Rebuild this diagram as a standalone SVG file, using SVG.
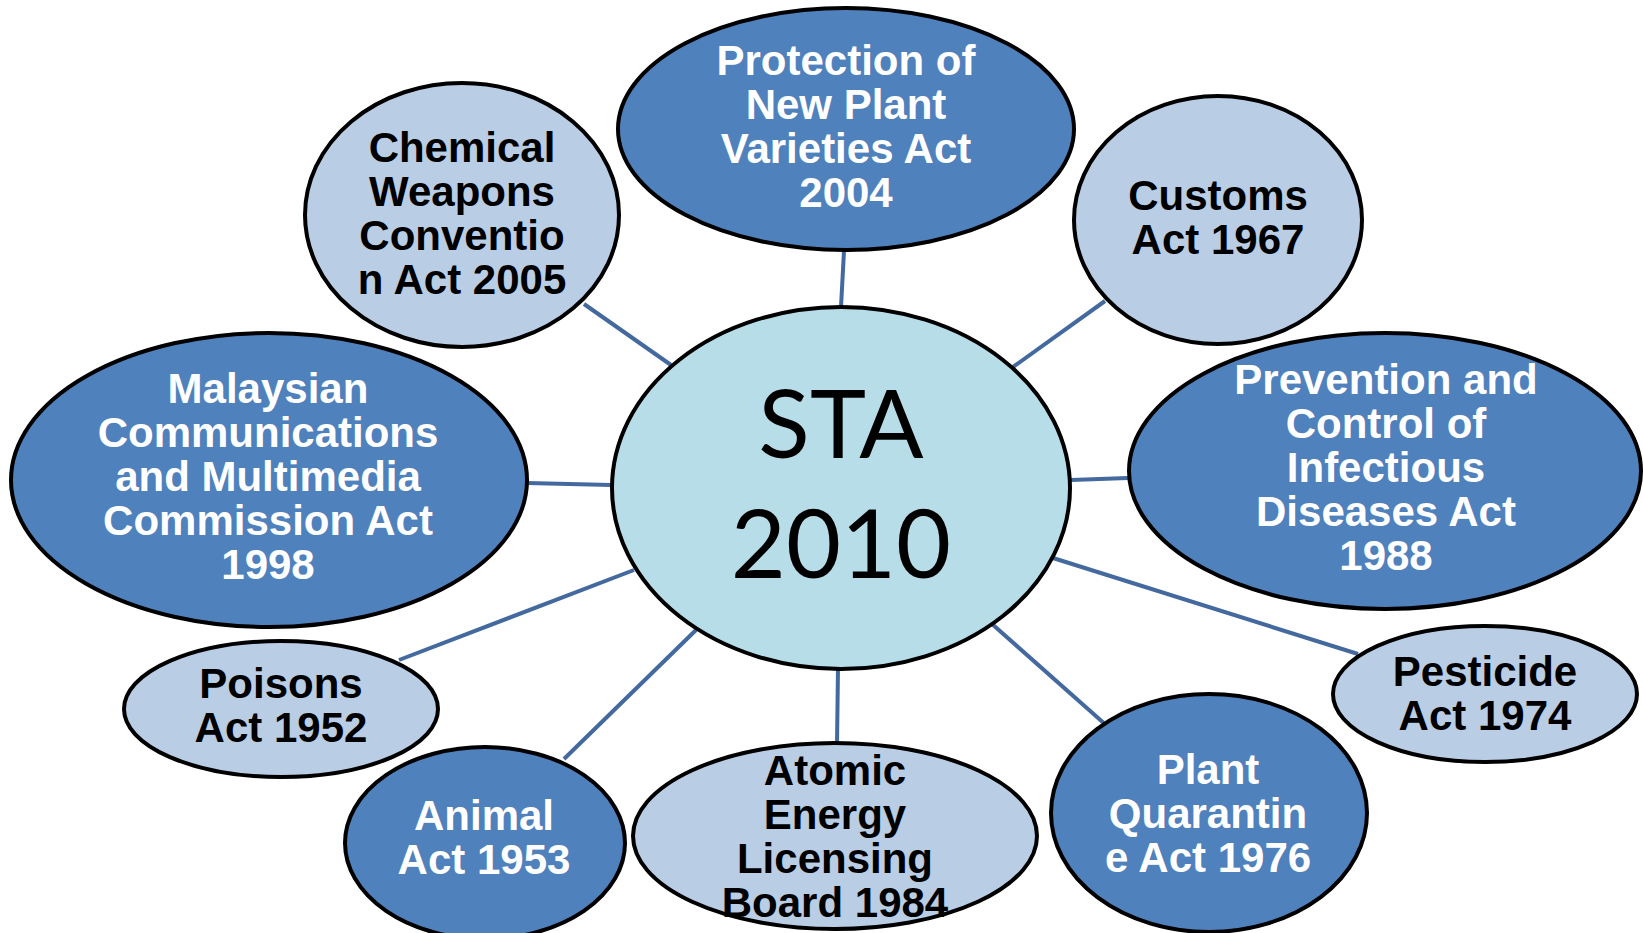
<svg xmlns="http://www.w3.org/2000/svg" width="1643" height="933" viewBox="0 0 1643 933">
<style>
.dk{fill:#4F81BD;stroke:#000;stroke-width:4}
.lt{fill:#B9CDE5;stroke:#000;stroke-width:4}
.ct{fill:#B7DEE8;stroke:#000;stroke-width:4}
.w{font-family:"Liberation Sans",Arial,sans-serif;font-weight:bold;font-size:42px;fill:#fff;text-anchor:middle}
.b{font-family:"Liberation Sans",Arial,sans-serif;font-weight:bold;font-size:42px;fill:#000;text-anchor:middle}
.c{font-family:Lato,"Open Sans",sans-serif;font-size:95px;fill:#000;text-anchor:middle}
.ln{stroke:#43699E;stroke-width:4;fill:none}
</style>
<rect width="1643" height="933" fill="#fff"/>
<g id="connectors">
<line class="ln" x1="584" y1="304" x2="671" y2="365"/>
<line class="ln" x1="844" y1="251" x2="841" y2="307"/>
<line class="ln" x1="1105" y1="301" x2="1013" y2="367"/>
<line class="ln" x1="527" y1="483" x2="611" y2="485"/>
<line class="ln" x1="1071" y1="480" x2="1128" y2="478"/>
<line class="ln" x1="399" y1="660" x2="634" y2="570"/>
<line class="ln" x1="1053" y1="558" x2="1358" y2="654"/>
<line class="ln" x1="564" y1="759" x2="696" y2="630"/>
<line class="ln" x1="837" y1="744" x2="838" y2="668"/>
<line class="ln" x1="1106" y1="725" x2="992" y2="624"/>
</g>
<g id="sta">
<ellipse class="ct" cx="841" cy="488" rx="229" ry="181"/>
<text class="c" x="841" y="458">STA</text>
<text class="c" x="841" y="578">2010</text>
</g>
<g id="protection">
<ellipse class="dk" cx="846" cy="129" rx="228" ry="121"/>
<text class="w" x="846" y="75">Protection of</text>
<text class="w" x="846" y="119">New Plant</text>
<text class="w" x="846" y="163">Varieties Act</text>
<text class="w" x="846" y="207">2004</text>
</g>
<g id="chemical">
<ellipse class="lt" cx="462" cy="215" rx="157" ry="132"/>
<text class="b" x="462" y="162">Chemical</text>
<text class="b" x="462" y="206">Weapons</text>
<text class="b" x="462" y="250">Conventio</text>
<text class="b" x="462" y="294">n Act 2005</text>
</g>
<g id="customs">
<ellipse class="lt" cx="1218" cy="220" rx="144" ry="124"/>
<text class="b" x="1218" y="210">Customs</text>
<text class="b" x="1218" y="254">Act 1967</text>
</g>
<g id="malaysian">
<ellipse class="dk" cx="269" cy="480" rx="258" ry="147"/>
<text class="w" x="268" y="403">Malaysian</text>
<text class="w" x="268" y="447">Communications</text>
<text class="w" x="268" y="491">and Multimedia</text>
<text class="w" x="268" y="535">Commission Act</text>
<text class="w" x="268" y="579">1998</text>
</g>
<g id="prevention">
<ellipse class="dk" cx="1385" cy="471" rx="256" ry="138"/>
<text class="w" x="1386" y="394">Prevention and</text>
<text class="w" x="1386" y="438">Control of</text>
<text class="w" x="1386" y="482">Infectious</text>
<text class="w" x="1386" y="526">Diseases Act</text>
<text class="w" x="1386" y="570">1988</text>
</g>
<g id="poisons">
<ellipse class="lt" cx="281" cy="709" rx="157" ry="68"/>
<text class="b" x="281" y="698">Poisons</text>
<text class="b" x="281" y="742">Act 1952</text>
</g>
<g id="pesticide">
<ellipse class="lt" cx="1485" cy="694" rx="152" ry="68"/>
<text class="b" x="1485" y="686">Pesticide</text>
<text class="b" x="1485" y="730">Act 1974</text>
</g>
<g id="animal">
<ellipse class="dk" cx="485" cy="843" rx="140" ry="96"/>
<text class="w" x="484" y="830">Animal</text>
<text class="w" x="484" y="874">Act 1953</text>
</g>
<g id="atomic">
<ellipse class="lt" cx="835" cy="836" rx="202" ry="93"/>
<text class="b" x="835" y="785">Atomic</text>
<text class="b" x="835" y="829">Energy</text>
<text class="b" x="835" y="873">Licensing</text>
<text class="b" x="835" y="917">Board 1984</text>
</g>
<g id="plant">
<ellipse class="dk" cx="1209" cy="813" rx="158" ry="119"/>
<text class="w" x="1208" y="784">Plant</text>
<text class="w" x="1208" y="828">Quarantin</text>
<text class="w" x="1208" y="872">e Act 1976</text>
</g>
</svg>
